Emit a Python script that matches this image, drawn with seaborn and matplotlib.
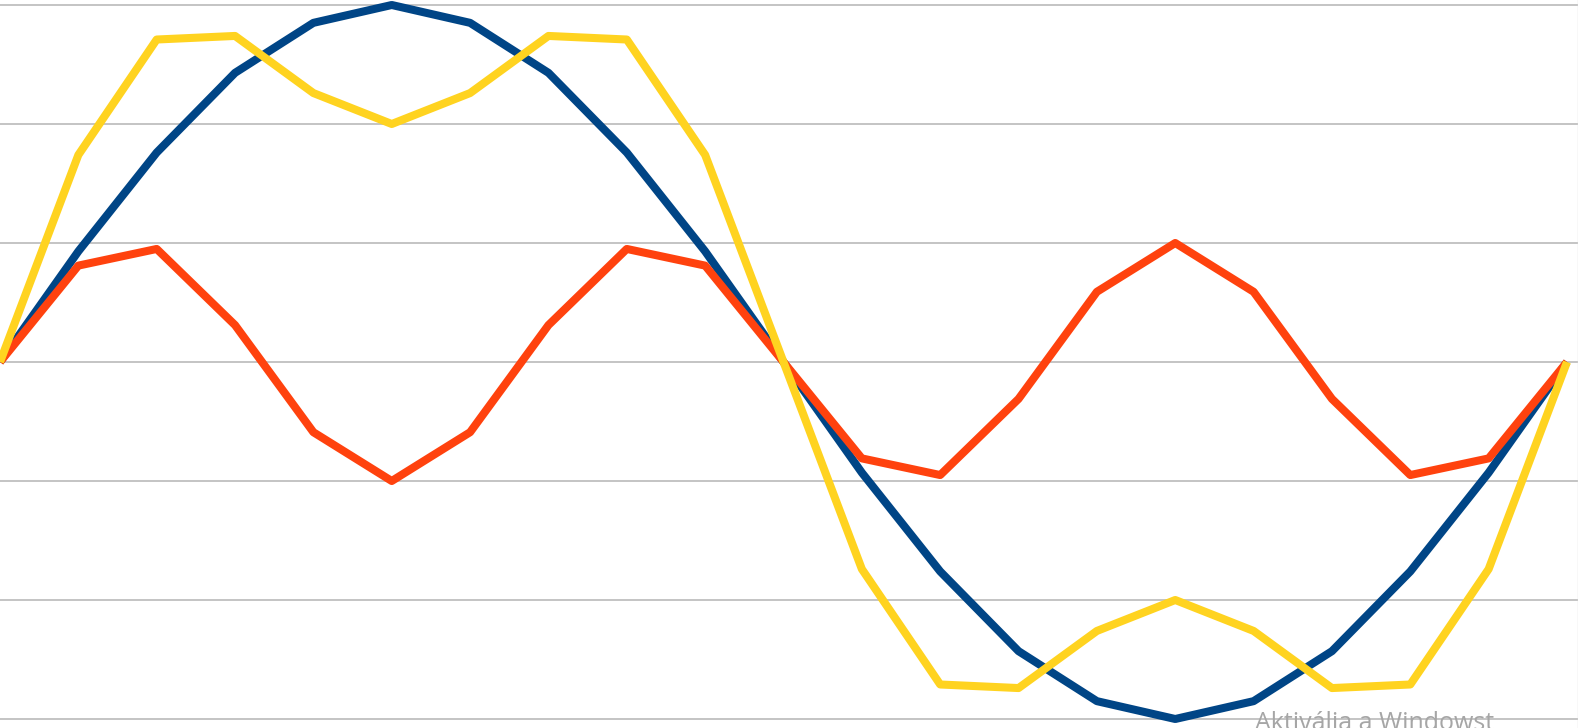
import matplotlib
matplotlib.use('Agg')
import matplotlib.pyplot as plt
import seaborn as sns
import pandas as pd

# step index (20 steps per period)
steps = list(range(21))

# values (gridline spacing = 1)
fundamental = [0, 0.93, 1.76, 2.43, 2.85, 3.0, 2.85, 2.43, 1.76, 0.93, 0,
               -0.93, -1.76, -2.43, -2.85, -3.0, -2.85, -2.43, -1.76, -0.93, 0]
third_harmonic = [0, 0.81, 0.95, 0.31, -0.59, -1.0, -0.59, 0.31, 0.95, 0.81, 0,
                  -0.81, -0.95, -0.31, 0.59, 1.0, 0.59, -0.31, -0.95, -0.81, 0]
total = [0, 1.74, 2.71, 2.74, 2.26, 2.0, 2.26, 2.74, 2.71, 1.74, 0,
         -1.74, -2.71, -2.74, -2.26, -2.0, -2.26, -2.74, -2.71, -1.74, 0]

grid_values = [-3, -2, -1, 0, 1, 2, 3]
colors = ['#004586', '#ff420e', '#ffd320']

df = pd.DataFrame({
    'step': steps * 3,
    'value': fundamental + third_harmonic + total,
    'series': ['alap'] * 21 + ['harmadik'] * 21 + ['eredo'] * 21,
})

sns.set_style('white')
plt.rcParams['font.family'] = ['Open Sans', 'DejaVu Sans']

W, H = 1578, 728
fig = plt.figure(figsize=(W / 100, H / 100), dpi=100)
ax = fig.add_axes([0, 0, 1, 1])

for val in grid_values:
    ax.axhline(val, color='#c4c4c4', linewidth=1.4, zorder=0)

sns.lineplot(data=df, x='step', y='value', hue='series', palette=colors,
             linewidth=5.8, legend=False, ax=ax, sort=False)
for line in ax.get_lines():
    if len(line.get_xdata()) > 2:
        line.set_solid_joinstyle('round')
        line.set_solid_capstyle('butt')

# pixel mapping: step 0 at x=0, step 20 at x=1567; +3 at y=5, -3 at y=719
px_per_step = 1567 / 20
ax.set_xlim(0, W / px_per_step)
px_per_unit = 119
ax.set_ylim(-3 - (H - 719) / px_per_unit, 3 + 5 / px_per_unit)

for s in ['top', 'left', 'bottom']:
    ax.spines[s].set_visible(False)
ax.spines['right'].set_color('#dcdcdc')
ax.spines['right'].set_linewidth(1.0)
ax.set_xticks([])
ax.set_yticks([])
ax.set_xlabel('')
ax.set_ylabel('')

fig.text(1255 / W, 1 - 730 / H, 'Aktiválja a Windowst', color='#a6a6a6',
         fontsize=18, ha='left', va='baseline')

fig.savefig('out.png', dpi=100)
